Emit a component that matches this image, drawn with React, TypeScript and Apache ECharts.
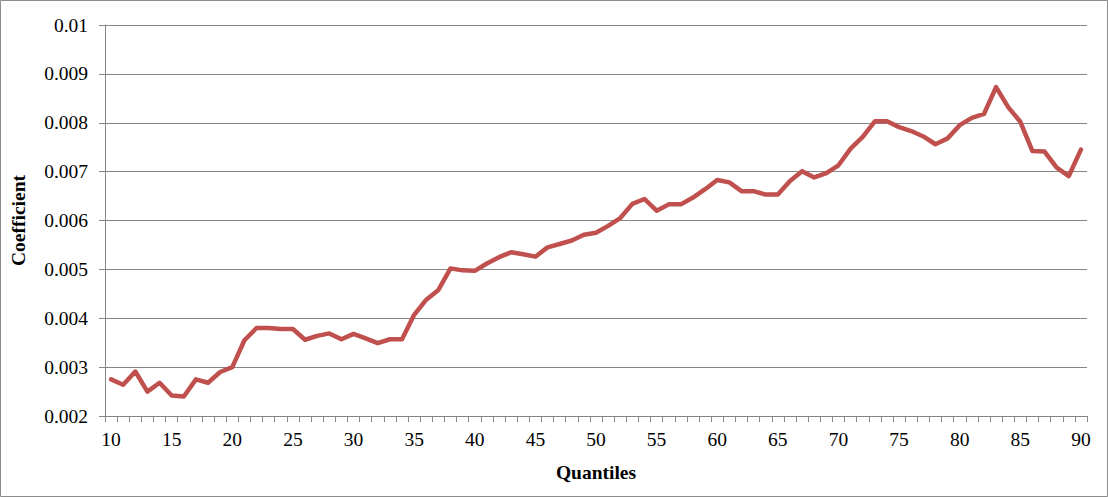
import React, { useEffect, useRef } from "react";
import * as echarts from "echarts";

const quantiles: string[] = [];
for (let q = 10; q <= 90; q++) quantiles.push(String(q));

const coefficients: number[] = [
  0.00275, 0.00264, 0.00291, 0.0025, 0.00268, 0.00242, 0.0024, 0.00275, 0.00268, 0.0029,
  0.003, 0.00355, 0.0038, 0.0038, 0.00378, 0.00378, 0.00356, 0.00364, 0.00369, 0.00357,
  0.00368, 0.00359, 0.00349, 0.00357, 0.00357, 0.00407, 0.00438, 0.00458, 0.00502, 0.00498,
  0.00497, 0.00512, 0.00525, 0.00535, 0.00531, 0.00526, 0.00545, 0.00552, 0.00559, 0.00571,
  0.00575, 0.00589, 0.00605, 0.00634, 0.00644, 0.0062, 0.00633, 0.00633, 0.00647, 0.00664,
  0.00683, 0.00678, 0.0066, 0.0066, 0.00653, 0.00653, 0.00681, 0.00701, 0.00688, 0.00697,
  0.00713, 0.00747, 0.00771, 0.00803, 0.00803, 0.00791, 0.00783, 0.00772, 0.00756, 0.00768,
  0.00795, 0.0081, 0.00818, 0.00873, 0.00832, 0.00802, 0.00742, 0.00741, 0.00708, 0.00691,
  0.00745,
];

const X_TITLE = "Quantiles";
const Y_TITLE = "Coefficient";

export default function App() {
  const ref = useRef<HTMLDivElement>(null);
  useEffect(() => {
    document.body.style.margin = "0";
    if (!ref.current) return;
    const chart = echarts.init(ref.current, null, { renderer: "svg" });
    const font = "Liberation Serif";
    chart.setOption({
      animation: false,
      backgroundColor: "#ffffff",
      textStyle: { fontFamily: font },
      grid: { left: 100, right: 21, top: 25, bottom: 81, containLabel: false },
      graphic: [
        {
          type: "rect",
          shape: { x: 0.5, y: 0.5, width: 1107, height: 496 },
          style: { fill: "none", stroke: "#8c8c8c", lineWidth: 1 },
          silent: true,
        },
      ],
      xAxis: {
        type: "category",
        data: quantiles,
        boundaryGap: true,
        name: X_TITLE,
        nameLocation: "middle",
        nameGap: 46,
        nameTextStyle: { fontFamily: font, fontSize: 19.5, fontWeight: "bold", color: "#000" },
        axisLine: { show: true, lineStyle: { color: "#868686", width: 1 } },
        axisTick: { show: true, interval: 0, length: 6, inside: false, lineStyle: { color: "#868686" } },
        axisLabel: { interval: 4, margin: 13, fontFamily: font, fontSize: 19.5, color: "#000" },
        splitLine: { show: false },
      },
      yAxis: {
        type: "value",
        min: 0.002,
        max: 0.01,
        interval: 0.001,
        name: Y_TITLE,
        nameLocation: "middle",
        nameGap: 77,
        nameRotate: 90,
        nameTextStyle: { fontFamily: font, fontSize: 19.5, fontWeight: "bold", color: "#000" },
        axisLine: { show: true, lineStyle: { color: "#868686", width: 1 } },
        axisTick: { show: true, length: 6, inside: false, lineStyle: { color: "#868686" } },
        axisLabel: {
          margin: 17,
          fontFamily: font,
          fontSize: 19.5,
          color: "#000",
          formatter: (v: number) => String(parseFloat(v.toFixed(3))),
        },
        splitLine: { show: true, lineStyle: { color: "#868686", width: 1 } },
      },
      series: [
        {
          type: "line",
          data: coefficients,
          symbol: "none",
          lineStyle: { color: "#C0504D", width: 4.5, join: "round", cap: "round" },
          itemStyle: { color: "#C0504D" },
        },
      ],
    });
    return () => chart.dispose();
  }, []);
  return <div ref={ref} style={{ width: 1108, height: 497 }} />;
}
